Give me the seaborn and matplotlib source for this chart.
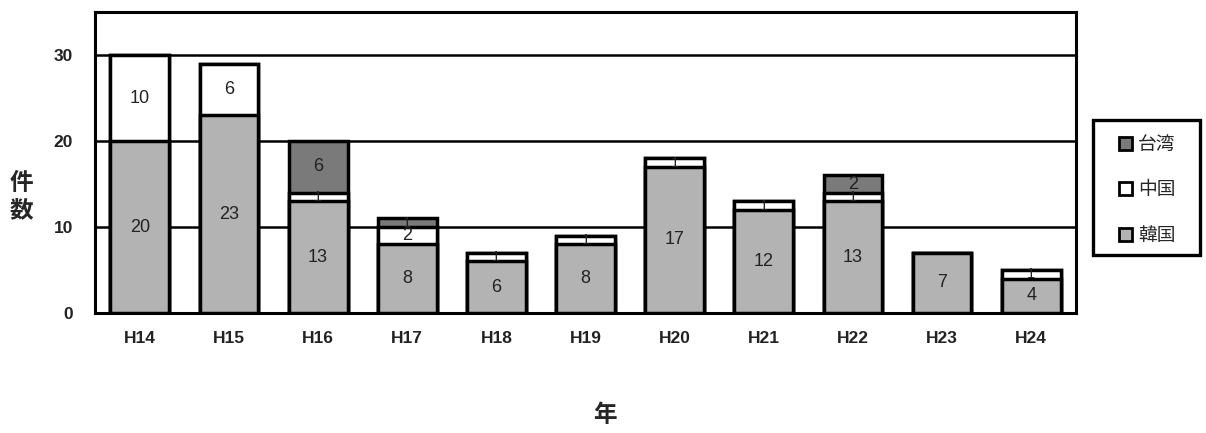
import numpy as np
import pandas as pd
import matplotlib
matplotlib.use("Agg")
import matplotlib.pyplot as plt
import seaborn as sns
from matplotlib.patches import Patch, Rectangle

# 年度別件数（国・地域別）
years = ["H14", "H15", "H16", "H17", "H18", "H19", "H20", "H21", "H22", "H23", "H24"]
korea = [20, 23, 13, 8, 6, 8, 17, 12, 13, 7, 4]
china = [10, 6, 1, 2, 1, 1, 1, 1, 1, 0, 1]
taiwan = [0, 0, 6, 1, 0, 0, 0, 0, 2, 0, 0]

colors = {"韓国": "#b3b3b3", "中国": "#ffffff", "台湾": "#7a7a7a"}

sns.set_theme(style="white")
plt.rcParams["font.family"] = ["Liberation Sans", "Noto Sans CJK JP", "DejaVu Sans"]

df = pd.DataFrame({"年": years, "韓国": korea, "中国": china, "台湾": taiwan})
df["c1"] = df["韓国"]
df["c2"] = df["韓国"] + df["中国"]
df["c3"] = df["c2"] + df["台湾"]

W, H = 1206, 433
fig = plt.figure(figsize=(W / 100, H / 100), dpi=100)
ax = fig.add_axes([0.079, 0.277, 0.813, 0.695])

# 積み上げ：合計から順に重ねて描く
bw = 0.66
for col, name in [("c3", "台湾"), ("c2", "中国"), ("c1", "韓国")]:
    sns.barplot(data=df, x="年", y=col, color=colors[name], saturation=1,
                width=bw, edgecolor="black", linewidth=2.5, ax=ax, zorder=3)

# 値ラベル（1件の細い区間は少し小さめ）
for i in range(len(years)):
    segs = [(0, korea[i]), (korea[i], china[i]), (korea[i] + china[i], taiwan[i])]
    for base, v in segs:
        if v > 0:
            ax.text(i, base + v / 2, str(v), ha="center", va="center",
                    fontsize=13 if v > 1 else 10.5, color="#222222", zorder=5)

ax.set_xlim(-0.48, 10.5)
ax.set_ylim(0, 35)
ax.set_yticks([0, 10, 20, 30])
for y in [10, 20, 30]:
    ax.axhline(y, color="black", linewidth=1.8, zorder=1)

for sp in ax.spines.values():
    sp.set_visible(True)
    sp.set_color("black")
    sp.set_linewidth(2.2)

ax.tick_params(axis="y", length=0, labelsize=12.5, pad=16)
ax.tick_params(axis="x", length=0, labelsize=12.5, pad=13)
ax.set_xticks(np.arange(-0.5, 10.5, 1), minor=True)
ax.tick_params(axis="x", which="minor", direction="in", length=4, width=2, color="black")
for lab in ax.get_yticklabels() + ax.get_xticklabels():
    lab.set_fontweight("bold")
    lab.set_color("#222222")

ax.set_xlabel("")
ax.set_ylabel("")
fig.text(0.502, 0.04, "年", ha="center", va="center", fontsize=17, fontweight="bold")
fig.text(0.018, 0.545, "件\n数", ha="center", va="center", fontsize=17,
         fontweight="bold", linespacing=1.25)

# 凡例（枠は別に描く）
fig.patches.append(Rectangle((1093 / W, 1 - 255 / H), 107 / W, 135 / H,
                             transform=fig.transFigure, facecolor="white",
                             edgecolor="black", linewidth=2.4, zorder=0))
handles = [Patch(facecolor=colors[n], edgecolor="black", linewidth=2) for n in ["台湾", "中国", "韓国"]]
leg = fig.legend(handles, ["台湾", "中国", "韓国"], loc="upper left",
                 bbox_to_anchor=(1119 / W, 1 - 137 / H), frameon=False,
                 fontsize=13.5, handlelength=0.7, handleheight=0.7, handletextpad=0.3,
                 labelspacing=1.5, borderpad=0, borderaxespad=0)

fig.savefig("out.png", dpi=100)
